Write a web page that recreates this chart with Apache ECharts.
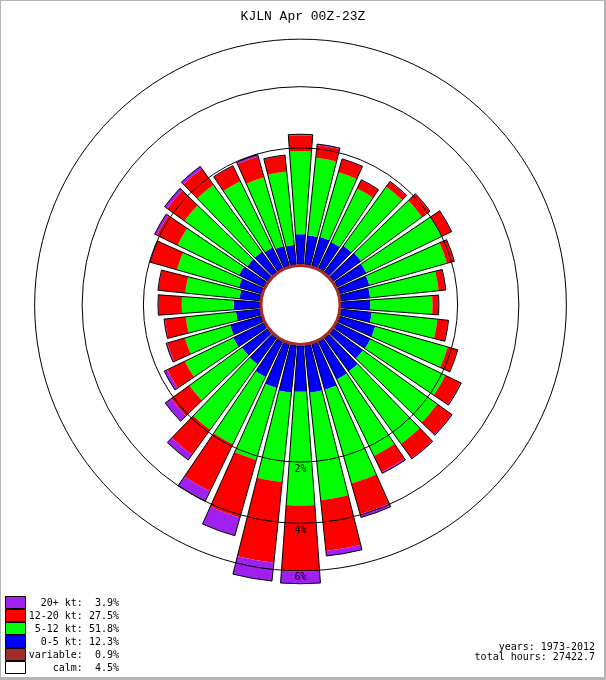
<!DOCTYPE html>
<html>
<head>
<meta charset="utf-8">
<script src="https://cdn.jsdelivr.net/npm/echarts@6/dist/echarts.min.js"></script>
<style>
html,body{margin:0;padding:0;background:#ffffff;}
#chart{width:606px;height:680px;}
</style>
</head>
<body>
<div id="chart"></div>
<script>
// ---------------- data (percent of hours, by direction the wind blows from) ----------------
const directions = [0,10,20,30,40,50,60,70,80,90,100,110,120,130,140,150,160,170,180,190,200,210,220,230,240,250,260,270,280,290,300,310,320,330,340,350];
const speed0to5 = [0.29,0.28,0.29,0.28,0.32,0.34,0.32,0.30,0.28,0.28,
                   0.30,0.38,0.38,0.37,0.44,0.45,0.53,0.53,0.51,0.53,
                   0.50,0.41,0.32,0.31,0.34,0.32,0.22,0.24,0.18,0.21,
                   0.26,0.23,0.23,0.21,0.18,0.17];
const speed5to12 = [1.62,1.48,1.22,1.03,1.39,1.47,1.68,1.57,1.25,1.09,
                    1.20,1.51,1.73,1.96,1.97,1.85,2.32,2.67,2.84,2.08,
                    1.61,1.53,1.60,1.18,0.95,0.79,0.79,0.84,0.84,1.08,
                    1.22,1.41,1.54,1.29,1.21,1.25];
const speed12to20 = [0.45,0.34,0.34,0.22,0.16,0.26,0.30,0.20,0.17,0.14,
                     0.27,0.28,0.50,0.55,0.56,0.55,1.12,1.97,2.68,3.08,
                     1.99,1.64,0.91,0.58,0.47,0.41,0.46,0.53,0.61,0.68,
                     0.59,0.57,0.54,0.43,0.54,0.40];
const speed20plus = [0.03,0.03,0.01,0.01,0.01,0.01,0.01,0.01,0.01,0.01,
                     0.01,0.01,0.02,0.02,0.02,0.05,0.13,0.22,0.58,0.86,
                     0.76,0.41,0.21,0.21,0.09,0.03,0.02,0.01,0.01,0.01,
                     0.07,0.09,0.09,0.01,0.05,0.01];
const ringPercents = [2, 4, 6];
const ringLabels = ['2%', '4%', '6%'];
const legendLabels = ['20+ kt:', '12-20 kt:', '5-12 kt:', '0-5 kt:', 'variable:', 'calm:'];
const legendPercents = ['3.9%', '27.5%', '51.8%', '12.3%', '0.9%', '4.5%'];
const legendColors = ['#a020f0', '#ff0000', '#00ff00', '#0000ff', '#a52a2a', '#ffffff'];
const titleText = 'KJLN Apr 00Z-23Z';
const infoLines = ['years: 1973-2012', 'total hours: 27422.7'];

// ---------------- scale: area-proportional (sqrt) radial scale ----------------
const K = 11500;          // px^2 per percent
const R0 = 41;            // radius where the bars start (px)
const C = R0 * R0 / K;
const RADIUS_PX = 290;
const U_MAX = RADIUS_PX / Math.sqrt(K);
const HALF = 4.1;         // half bar width in degrees
function sqrtScale(p) { return Math.sqrt(C + p); }

function radiusPx(api, cx, cy, p, dir) {
  const pt = api.coord([sqrtScale(p), dir]);
  return Math.hypot(pt[0] - cx, pt[1] - cy);
}
function barAngles(api, cx, cy, dir) {
  const p0 = api.coord([U_MAX, dir - HALF]);
  const p1 = api.coord([U_MAX, dir + HALF]);
  let a0 = Math.atan2(p0[1] - cy, p0[0] - cx);
  let a1 = Math.atan2(p1[1] - cy, p1[0] - cx);
  if (a1 < a0) a1 += 2 * Math.PI;
  return [a0, a1];
}

const bins = [
  { name: '0-5 kt', values: speed0to5, color: '#0000ff' },
  { name: '5-12 kt', values: speed5to12, color: '#00ff00' },
  { name: '12-20 kt', values: speed12to20, color: '#ff0000' },
  { name: '20+ kt', values: speed20plus, color: '#a020f0' }
];

const series = [];
const cumulative = directions.map(() => 0);
bins.forEach(function (bin) {
  const data = directions.map(function (d, i) {
    const item = [d, cumulative[i], bin.values[i]];
    cumulative[i] += bin.values[i];
    return item;
  });
  series.push({
    type: 'custom',
    name: bin.name,
    coordinateSystem: 'polar',
    encode: { angle: 0, radius: 2 },
    z: 2,
    silent: true,
    itemStyle: { color: bin.color },
    data: data,
    renderItem: function (params, api) {
      const cs = params.coordSys;
      const cx = cs.cx, cy = cs.cy;
      const dir = api.value(0), base = api.value(1), val = api.value(2);
      const rIn = radiusPx(api, cx, cy, base, dir);
      const rOut = radiusPx(api, cx, cy, base + val, dir);
      const a = barAngles(api, cx, cy, dir);
      return {
        type: 'sector',
        shape: { cx: cx, cy: cy, r0: rIn, r: rOut, startAngle: a[0], endAngle: a[1], clockwise: true },
        style: { fill: bin.color, stroke: null }
      };
    }
  });
});

// outline of each whole bar
series.push({
  type: 'custom',
  name: 'outline',
  coordinateSystem: 'polar',
  encode: { angle: 0, radius: 1 },
  z: 3,
  silent: true,
  data: directions.map(function (d, i) { return [d, cumulative[i]]; }),
  renderItem: function (params, api) {
    const cs = params.coordSys;
    const cx = cs.cx, cy = cs.cy;
    const dir = api.value(0), tot = api.value(1);
    const rIn = radiusPx(api, cx, cy, 0, dir);
    const rOut = radiusPx(api, cx, cy, tot, dir);
    const a = barAngles(api, cx, cy, dir);
    return {
      type: 'sector',
      shape: { cx: cx, cy: cy, r0: rIn, r: rOut, startAngle: a[0], endAngle: a[1], clockwise: true },
      style: { fill: 'none', stroke: '#000000', lineWidth: 1 }
    };
  }
});

// percentage rings and their labels
series.push({
  type: 'custom',
  name: 'rings',
  coordinateSystem: 'polar',
  encode: { radius: 0 },
  z: 4,
  silent: true,
  data: ringPercents.map(function (p, i) { return [p, i]; }),
  renderItem: function (params, api) {
    const cs = params.coordSys;
    const cx = cs.cx, cy = cs.cy;
    const p = api.value(0), idx = api.value(1);
    const r = radiusPx(api, cx, cy, p, 180);
    return {
      type: 'group',
      children: [
        { type: 'circle', shape: { cx: cx, cy: cy, r: r }, style: { fill: 'none', stroke: '#000000', lineWidth: 1 } },
        { type: 'text', x: cx, y: cy + r + 7, style: { text: ringLabels[idx], fill: '#000000', font: '10px "DejaVu Sans Mono"', align: 'center', verticalAlign: 'middle' } }
      ]
    };
  }
});

// calm (white) circle with the variable (brown) ring
series.push({
  type: 'custom',
  name: 'calm',
  coordinateSystem: 'polar',
  encode: { radius: 0 },
  z: 5,
  silent: true,
  data: [[0]],
  renderItem: function (params, api) {
    const cs = params.coordSys;
    const cx = cs.cx, cy = cs.cy;
    const r = radiusPx(api, cx, cy, api.value(0), 0);
    return {
      type: 'circle',
      shape: { cx: cx, cy: cy, r: r - 1.5 },
      style: { fill: '#ffffff', stroke: '#a52a2a', lineWidth: 3 }
    };
  }
});

// legend and info texts as graphics
const graphics = [];
legendLabels.forEach(function (lab, i) {
  const y0 = 596 + 13 * i;
  graphics.push({ type: 'rect', shape: { x: 5.5, y: y0 + 0.5, width: 20, height: 12 }, style: { fill: legendColors[i], stroke: '#000000', lineWidth: 1 } });
  graphics.push({ type: 'text', x: 119, y: y0 + 7, style: { text: lab + ' ' + legendPercents[i].padStart(5, ' '), fill: '#000000', font: '10px "DejaVu Sans Mono"', align: 'right', verticalAlign: 'middle' } });
});
infoLines.forEach(function (t, i) {
  graphics.push({ type: 'text', x: 595, y: 647 + 10 * i, style: { text: t, fill: '#000000', font: '10px "DejaVu Sans Mono"', align: 'right', verticalAlign: 'middle' } });
});
// frame
graphics.push({ type: 'rect', shape: { x: 0, y: 0, width: 606, height: 1 }, style: { fill: '#b4b4b4' } });
graphics.push({ type: 'rect', shape: { x: 0, y: 0, width: 1, height: 680 }, style: { fill: '#b4b4b4' } });
graphics.push({ type: 'rect', shape: { x: 604, y: 0, width: 2, height: 680 }, style: { fill: '#b4b4b4' } });
graphics.push({ type: 'rect', shape: { x: 0, y: 677, width: 606, height: 3 }, style: { fill: '#b4b4b4' } });

const chart = echarts.init(document.getElementById('chart'), null, { renderer: 'canvas' });
chart.setOption({
  animation: false,
  backgroundColor: '#ffffff',
  title: {
    text: titleText,
    left: 'center',
    top: 5,
    textStyle: { fontFamily: '"Liberation Mono", monospace', fontSize: 13, fontWeight: 'normal', color: '#000000' }
  },
  polar: { center: [300.5, 305], radius: RADIUS_PX },
  angleAxis: { type: 'value', min: 0, max: 360, startAngle: 90, clockwise: true, show: false },
  radiusAxis: { type: 'value', min: 0, max: U_MAX, show: false },
  graphic: graphics,
  series: series
});
</script>
</body>
</html>
